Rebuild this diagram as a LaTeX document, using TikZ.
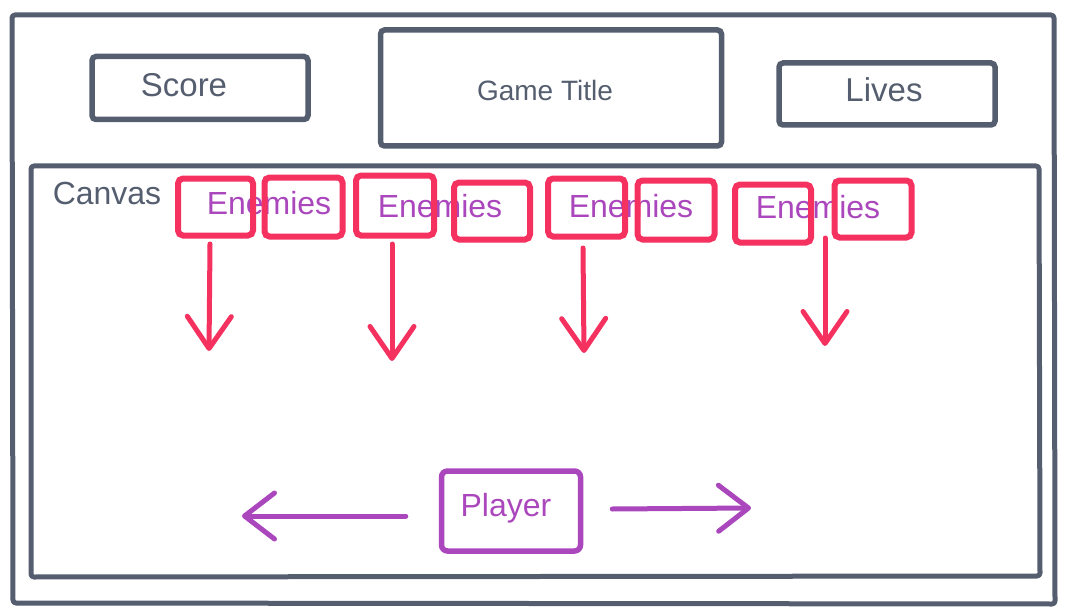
\documentclass[tikz,border=0pt]{standalone}
\usepackage{fontspec}
\setmainfont{Liberation Sans}
\usetikzlibrary{arrows.meta}
\definecolor{slate}{HTML}{555E6F}
\definecolor{enemyred}{HTML}{F5315F}
\definecolor{plum}{HTML}{AB47BC}
\begin{document}
\begin{tikzpicture}[x=1pt,y=-1pt,
  frame/.style={draw=slate,line width=5pt,rounded corners=3pt,line join=round},
  uibox/.style={draw=slate,line width=5.5pt,rounded corners=4pt,inner sep=0pt},
  enemybox/.style={draw=enemyred,line width=6pt,rounded corners=5pt,inner sep=0pt},
  playerbox/.style={draw=plum,line width=5.5pt,rounded corners=6pt,inner sep=0pt},
  lbl/.style={text=slate,font=\fontsize{33}{37}\selectfont,inner sep=0pt},
  enemytxt/.style={text=plum,font=\fontsize{32}{36}\selectfont,inner sep=0pt},
  fall/.style={draw=enemyred,line width=5pt,line cap=round,-{Straight Barb[length=32pt,width=44pt,line cap=round,round]}},
  move/.style={draw=plum,line width=5pt,line cap=round,-{Straight Barb[length=30pt,width=46pt,line cap=round,round]}}
]
\useasboundingbox (0,0) rectangle (1071,615);
% outer frame and canvas
\draw[frame] (12,15) -- (1054,15) -- (1055,604) -- (13,603) -- cycle;
\draw[frame] (31,166) -- (1039,166) -- (1040,576) -- (31,577) -- cycle;
\node[lbl,font=\fontsize{32}{36}\selectfont] (canvas) at (107,193) {Canvas};
% header boxes
\node[uibox,minimum width=216pt,minimum height=63pt] (score) at (200,88) {};
\node[lbl] (scoretxt) at (184,85) {Score};
\node[uibox,minimum width=341pt,minimum height=116pt] (title) at (551,88) {};
\node[lbl,font=\fontsize{28}{32}\selectfont] (titletxt) at (545,90) {Game Title};
\node[uibox,minimum width=216pt,minimum height=62pt] (lives) at (887,94) {};
\node[lbl] (livestxt) at (884,90) {Lives};
% enemy texts
\node[enemytxt] (t1) at (269,203) {Enemies};
\node[enemytxt] (t2) at (440,206) {Enemies};
\node[enemytxt] (t3) at (631,206) {Enemies};
\node[enemytxt] (t4) at (818,207) {Enemies};
% enemy boxes
\node[enemybox,minimum width=75pt,minimum height=57pt] (e1) at (215.5,207) {};
\node[enemybox,minimum width=78pt,minimum height=59pt] (e2) at (303.5,207) {};
\node[enemybox,minimum width=78pt,minimum height=60pt] (e3) at (395,205.5) {};
\node[enemybox,minimum width=76pt,minimum height=57pt] (e4) at (492,211) {};
\node[enemybox,minimum width=77pt,minimum height=58pt] (e5) at (586.5,207.5) {};
\node[enemybox,minimum width=77pt,minimum height=59pt] (e6) at (676,210) {};
\node[enemybox,minimum width=76pt,minimum height=58pt] (e7) at (773,213.5) {};
\node[enemybox,minimum width=77pt,minimum height=57pt] (e8) at (873,209) {};
% falling arrows
\coordinate (a1s) at (210,244);
\coordinate (a1e) at (209,351);
\coordinate (a2s) at (392,244);
\coordinate (a2e) at (392,361);
\coordinate (a3s) at (583,248);
\coordinate (a3e) at (584,353);
\coordinate (a4s) at (825,238);
\coordinate (a4e) at (825,346);
\draw[fall] (a1s) -- (a1e);
\draw[fall] (a2s) -- (a2e);
\draw[fall] (a3s) -- (a3e);
\draw[fall] (a4s) -- (a4e);
% player
\node[playerbox,minimum width=139pt,minimum height=80pt] (player) at (511,511) {};
\node[enemytxt] (playertxt) at (506,508) {Player};
\coordinate (left) at (242,516);
\coordinate (right) at (751,508);
\draw[move] ([xshift=-33pt]player.west |- 0,516) -- (left);
\draw[move] ([xshift=29pt]player.east |- 0,509) -- (right);
\end{tikzpicture}
\end{document}
